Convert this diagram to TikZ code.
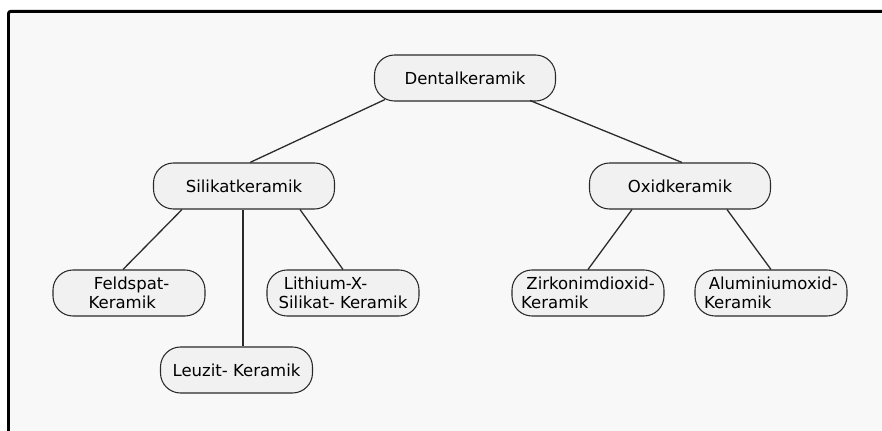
\documentclass[tikz,border=0pt]{standalone}
\usepackage{fontspec}
\setmainfont{DejaVu Sans}
\usetikzlibrary{calc}

\definecolor{panelbg}{HTML}{F8F8F8}
\definecolor{boxfill}{HTML}{F1F1F1}
\definecolor{boxline}{HTML}{2A2A2A}

\begin{document}
\begin{tikzpicture}[x=0.03cm, y=-0.03cm,
  every node/.style={font=\fontsize{14.1}{16.5}\selectfont},
  box/.style={draw=boxline, fill=boxfill, rounded corners=0.6cm, line width=0.9pt,
    minimum width=4.56cm, minimum height=1.38cm, align=left, inner sep=0pt},
  widebox/.style={box, minimum width=5.43cm},
  link/.style={draw=boxline, line width=1.1pt}]
  \useasboundingbox (0,0) rectangle (882,431);

  % panel with frame (only top and left edges visible)
  \fill[panelbg] (8.5,11.3) rectangle (882,431);
  \draw[line width=2.5pt, rounded corners=2pt] (8.5,440) -- (8.5,11.3) -- (890,11.3);

  % root
  \node[widebox] (dental) at (465,78) {Dentalkeramik};

  % second level
  \node[widebox] (silikat) at (244,186) {Silikatkeramik};
  \node[widebox] (oxid) at (680,186) {Oxidkeramik};

  % silicate ceramics
  \node[box] (feld) at (129,293) {\hspace*{0.32em}Feldspat-\\Keramik};
  \node[box] (lith) at (343,293) {\hspace*{0.32em}Lithium-X-\\Silikat- Keramik};
  \node[box] (leuz) at (236.5,370) {Leuzit- Keramik};

  % oxide ceramics
  \node[box] (zirk) at (588,293) {\hspace*{0.32em}Zirkonimdioxid-\\Keramik};
  \node[box] (alum) at (771,293) {\hspace*{0.28em}Aluminiumoxid-\\Keramik};

  % connectors
  \coordinate (silfoot) at ($(silikat.south)+(-1,0)$);
  \draw[link] ($(dental.south)+(-80,-2)$) -- ($(silikat.north)+(6,0)$);
  \draw[link] ($(dental.south)+(65,-1)$) -- ($(oxid.north)+(2,0)$);
  \draw[link] ($(silikat.south)+(-62,0)$) -- ($(feld.north)+(-6,0)$);
  \draw[link] (silfoot) -- (silfoot |- leuz.north);
  \draw[link] ($(silikat.south)+(56,0)$) -- (lith.north);
  \draw[link] ($(oxid.south)+(-48,0)$) -- (zirk.north);
  \draw[link] ($(oxid.south)+(47,0)$) -- (alum.north);
\end{tikzpicture}
\end{document}
